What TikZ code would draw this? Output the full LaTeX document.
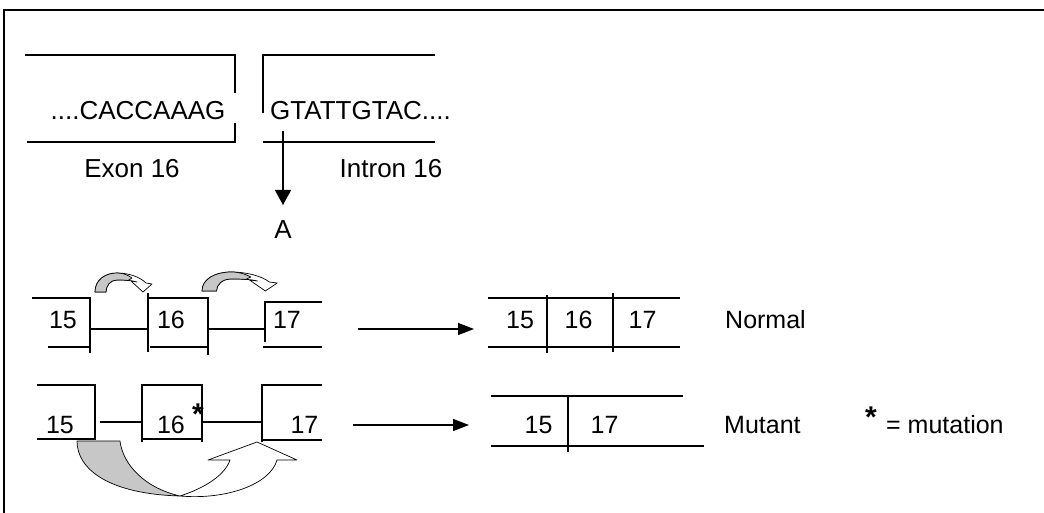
\documentclass[tikz,border=0pt]{standalone}
\usepackage{fontspec}
\setmainfont{Liberation Sans}
\usetikzlibrary{arrows.meta}
\newcommand\smallcurvearrow{%
 \draw[wband] (0,0) .. controls (0,-12) and (10,-19) .. (22,-19) .. controls (34,-19) and (45,-15) .. (51,-9) -- (57,-8) -- (48,0) -- (36,-11) -- (42,-10) .. controls (36,-12) and (28,-12) .. (22,-12) .. controls (15,-12) and (11,-6) .. (11,0) -- cycle;
 \draw[gband] (0,0) .. controls (0,-12) and (10,-19) .. (22,-19) .. controls (28,-19) and (33,-17) .. (37,-14) -- (33,-11.5) .. controls (30,-12) and (26,-12) .. (22,-12) .. controls (15,-12) and (11,-6) .. (11,0) -- cycle;}
\begin{document}
\begin{tikzpicture}[x=1pt,y=-1pt,
  big/.style={font=\fontsize{26}{30}\selectfont, inner sep=0pt, anchor=base},
  lab/.style={font=\fontsize{25}{30}\selectfont, inner sep=0pt, anchor=base},
  star/.style={font=\bfseries\fontsize{30}{34}\selectfont, inner sep=0pt, anchor=base},
  exon/.style={line width=1.9pt},
  intron/.style={line width=1.5pt},
  frame/.style={line width=2.5pt},
  arr/.style={line width=1.4pt, -{Triangle[length=16pt,width=12pt]}},
  gband/.style={fill=black!22, draw=black, line width=0.7pt, line join=round},
  wband/.style={fill=white, draw=black, line width=0.7pt, line join=round}]
\useasboundingbox (0,0) rectangle (1044,513);
% frame
\draw[frame] (4,513) -- (4,10) -- (1044,10);
% ---------- top: exon / intron 16 ----------
\draw[exon] (25,55) -- (235,55) -- (235,93);
\draw[exon] (235,123) -- (235,142) -- (27,142);
\draw[exon] (435,55) -- (263,55) -- (263,113);
\draw[exon] (263,142) -- (435,142);
\node[big] (seqE) at (138,120) {....CACCAAAG};
\node[big, anchor=base west] (seqI) at (270,120) {GTATTGTAC....};
\node[big] (exon16) at (132,178) {Exon 16};
\node[big] (intron16) at (391,178) {Intron 16};
\node[big] (mutA) at (283,238) {A};
\coordinate (mstart) at (283,131);
\coordinate (mend) at (283,205);
\draw[line width=1.4pt, -{Triangle[length=15pt,width=16pt]}] (mstart) -- (mend);
% ---------- normal splicing ----------
\begin{scope}[shift={(95,292)}]\smallcurvearrow\end{scope}
\begin{scope}[shift={(202,291)}, xscale=1.32]\smallcurvearrow\end{scope}
\draw[exon] (32,298) -- (90,298) -- (90,353);
\draw[exon] (48,347) -- (90,347);
\draw[intron] (90,329) -- (148,329);
\draw[exon] (148,293) -- (148,352);
\draw[exon] (148,298) -- (208,298) -- (208,355);
\draw[exon] (150,347) -- (208,347);
\draw[intron] (208,329) -- (265,329);
\draw[exon] (265,342) -- (265,302) -- (322,302);
\draw[exon] (263,347) -- (322,347);
\node[lab] (n15) at (63,328) {15};
\node[lab] (n16) at (171,328) {16};
\node[lab] (n17) at (287,328) {17};
% ---------- mutant splicing: skipping arrow ----------
\draw[gband] (77,441) -- (120,441) .. controls (123,465) and (145,488) .. (180,496) .. controls (110,494) and (77,470) .. (77,441) -- cycle;
\draw[wband] (180,496) .. controls (205,488) and (225,475) .. (230,460) -- (208,460) -- (257,442) -- (297,460) -- (277,460) .. controls (270,485) and (225,500) .. (180,496) -- cycle;
\draw[exon] (37,385) -- (95,385) -- (95,440);
\draw[exon] (37,439) -- (95,439);
\draw[intron] (100,422) -- (142,422);
\draw[exon] (142,442) -- (142,385) -- (202,385) -- (202,442);
\draw[exon] (142,439) -- (202,439);
\draw[intron] (202,422) -- (262,422);
\draw[exon] (262,442) -- (262,385) -- (322,385);
\draw[exon] (262,440) -- (322,440);
\node[lab] (m15) at (60,433) {15};
\node[lab] (m16) at (171,433) {16};
\node[star] (mstar) at (198,424) {*};
\node[lab] (m17) at (304.5,433) {17};
% ---------- results ----------
\coordinate (na) at (358,329);
\coordinate (nb) at (474,329);
\draw[arr] (na) -- (nb);
\draw[exon] (488,298) -- (680,298);
\draw[exon] (488,347) -- (680,347);
\draw[exon] (547,295) -- (547,353);
\draw[exon] (613,293) -- (613,352);
\node[lab] (r15) at (520,328) {15};
\node[lab] (r16) at (578.5,328) {16};
\node[lab] (r17) at (642.5,328) {17};
\node[lab, anchor=base west] (normal) at (725,328) {Normal};
\coordinate (ma) at (353,425);
\coordinate (mb) at (469,425);
\draw[arr] (ma) -- (mb);
\draw[exon] (491,396) -- (683,396);
\draw[exon] (491,446) -- (704,446);
\draw[exon] (568,396) -- (568,452);
\node[lab] (s15) at (538.5,433) {15};
\node[lab] (s17) at (604.5,433) {17};
\node[lab, anchor=base west] (mutant) at (724,433) {Mutant};
\node[star] (legstar) at (871,427) {*};
\node[lab, anchor=base west] (legend) at (886,433) {= mutation};
\end{tikzpicture}
\end{document}
